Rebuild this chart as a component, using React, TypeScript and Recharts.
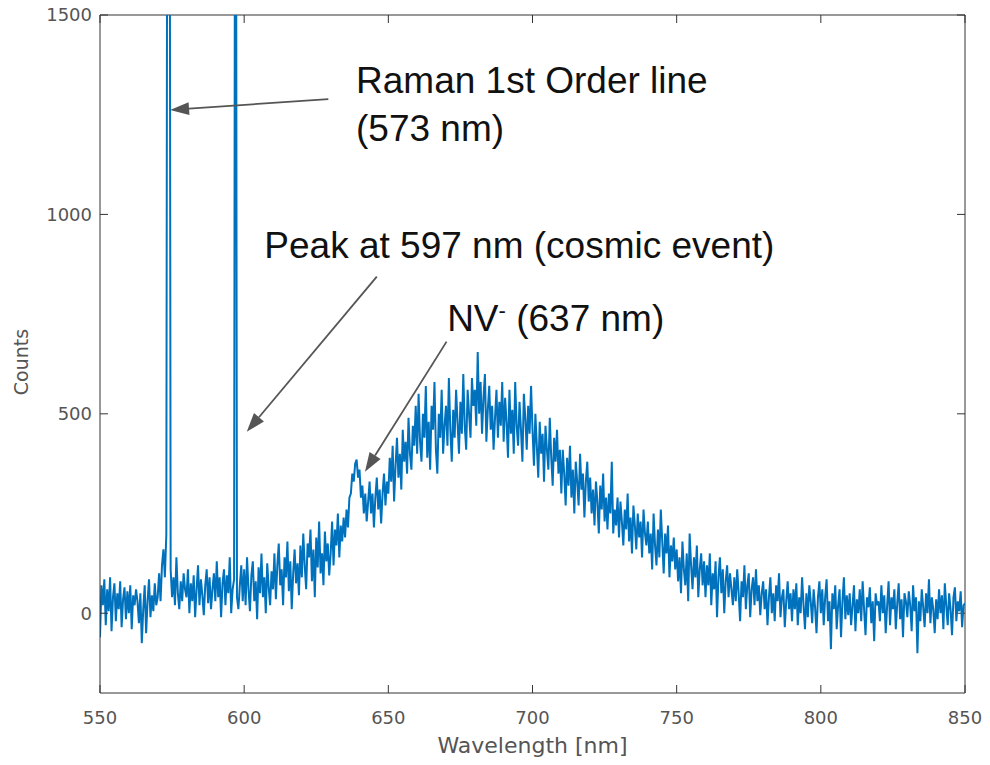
import { LineChart, Line, XAxis, YAxis, ReferenceLine, ReferenceDot } from "recharts";

const xTicks = [550, 600, 650, 700, 750, 800, 850];
const yTicks = [0, 500, 1000, 1500];

// spectrum sampled every 0.5 nm, starting at 550 nm
const startNm = 550;
const stepNm = 0.5;

const counts550 = [
  -60, 70, 20, 85, -30, 60, 5, 90, -45, 40, 75, -20, 50, 10, 80, -35, 35, 65, -15, 55,
  0, 70, -40, 45, 20, 60, 30, -25, 50, -75, 10, 70, -50, 30, 85, -10, 45, 5, 75, 20,
  40, 100, 30, 120, 160, 90, 197, 3000, 3000, 110, 40, 90, 20, 140, 50, 10, 80, 30, 100, 60,
  40, 110, 0, 75, 30, 95, -10, 60, 120, 20, 85, 45, -5, 70, 110, 25, 90, 10, 60, 100,
  30, 130, 40, 90, -10, 75, 110, 20, 95, 50, 140, 0, 60, 85, 3000, 40, 10, 70, 120, 30,
];
const counts600 = [
  110, 20, 140, 60, 5, 95, 130, 30, 80, -15, 115, 50, 150, 40, 90, 0, 125, 65, 20, 105,
  60, 150, 35, 120, 175, 70, 110, 20, 140, 90, 180, 55, 130, 10, 100, 160, 75, 125, 45, 170,
  90, 200, 120, 60, 175, 140, 210, 80, 160, 40, 190, 115, 230, 100, 150, 70, 205, 130, 175, 95,
  150, 230, 120, 210, 170, 250, 140, 220, 180, 240, 190, 260, 215, 290, 300, 350, 330, 375, 385, 340,
  360, 290, 320, 250, 300, 230, 280, 330, 250, 300, 215, 290, 340, 260, 310, 225, 300, 350, 270, 330,
];
const counts650 = [
  300, 390, 330, 420, 280, 370, 440, 340, 400, 310, 460, 380, 430, 350, 490, 400, 360, 470, 420, 520,
  400, 550, 430, 380, 500, 440, 570, 390, 480, 360, 520, 460, 580, 410, 350, 500, 440, 560, 400, 470,
  520, 420, 590, 460, 380, 510, 440, 560, 480, 400, 530, 450, 600, 470, 410, 560, 500, 440, 590, 520,
  560, 470, 655, 500, 580, 450, 540, 600, 430, 510, 570, 460, 520, 410, 490, 560, 440, 530, 470, 580,
  430, 540, 480, 390, 560, 450, 510, 400, 580, 470, 420, 530, 460, 380, 550, 490, 410, 520, 450, 570,
];
const counts700 = [
  460, 370, 500, 420, 340, 480, 400, 450, 330, 470, 410, 360, 490, 390, 320, 440, 380, 460, 350, 410,
  300, 410, 350, 270, 390, 320, 420, 290, 360, 250, 380, 330, 270, 400, 310, 350, 240, 330, 380, 280,
  340, 250, 310, 220, 330, 280, 200, 320, 260, 350, 230, 290, 210, 300, 250, 380, 200, 260, 220, 290,
  190, 280, 230, 170, 260, 210, 300, 180, 240, 150, 270, 220, 160, 250, 190, 230, 140, 260, 200, 170,
  230, 150, 200, 110, 250, 170, 120, 210, 140, 260, 180, 100, 200, 150, 220, 90, 170, 130, 190, 110,
];
const counts750 = [
  160, 80, 140, 50, 180, 110, 70, 150, 30, 200, 120, 60, 140, 90, 170, 40, 110, 150, 70, 130,
  40, 120, 70, 150, 20, 100, 60, 130, -10, 90, 140, 50, 110, 0, 80, 120, 40, 100, 60, 20,
  90, 30, 110, 50, -20, 80, 40, 120, 10, 70, 100, -10, 60, 90, 20, 110, 30, 70, -5, 50,
  80, 10, 60, -30, 40, 90, 0, 50, -20, 70, 30, 100, -10, 40, 60, -35, 30, 80, 10, 50,
  -20, 60, 10, 75, -30, 40, 0, 90, 20, -40, 50, -10, 70, 30, -25, 60, 15, -50, 40, 80,
];
const counts800 = [
  0, 60, -30, 40, 85, -20, 30, -90, 50, 10, 70, -40, 20, 60, -60, 30, 90, -15, 45, -5,
  50, -30, 20, 70, -45, 35, 0, 60, -20, 80, 10, -55, 40, 15, 65, -25, 30, -70, 50, 20,
  30, -20, 70, 0, 45, -50, 20, 80, -30, 40, 10, 60, -40, 25, 75, -15, 35, -60, 50, 30,
  -10, 55, 20, -45, 70, 5, 40, -100, 30, -20, 60, 15, -35, 50, 0, 85, -25, 40, 10, -50,
  35, -15, 60, 0, 45, -40, 75, 20, -30, 50, 10, -55, 40, 65, -20, 30, 5, 55, -35, 20,
];
const counts850 = [25];

const spectrum = [...counts550, ...counts600, ...counts650, ...counts700, ...counts750, ...counts800, ...counts850].map(
  (c, i) => ({ nm: startNm + i * stepNm, counts: c })
);

// annotation arrows, tail -> head, in data units
const arrows = [
  { x1: 629.2, y1: 1289, x2: 574.3, y2: 1262 },
  { x1: 646.0, y1: 844, x2: 600.9, y2: 455 },
  { x1: 670.2, y1: 681, x2: 641.9, y2: 355 },
];

const notes = [
  { nm: 638.8, counts: 1304, text: "Raman 1st Order line" },
  { nm: 638.8, counts: 1184, text: "(573 nm)" },
  { nm: 607.0, counts: 891, text: "Peak at 597 nm (cosmic event)" },
];
const nvNote = { nm: 670.4, counts: 708 };

const annoFont = "'Liberation Sans', Arial, sans-serif";
const tickFont = "'DejaVu Sans', Verdana, sans-serif";
const frame = "#333";

const Arrow = (props: any) => {
  const { x1, y1, x2, y2 } = props;
  const dx = x2 - x1;
  const dy = y2 - y1;
  const len = Math.sqrt(dx * dx + dy * dy);
  const ux = dx / len;
  const uy = dy / len;
  const hl = 19;
  const hw = 6.5;
  const bx = x2 - ux * hl;
  const by = y2 - uy * hl;
  const pts = `${x2},${y2} ${bx - uy * hw},${by + ux * hw} ${bx + uy * hw},${by - ux * hw}`;
  return (
    <g>
      <line x1={x1} y1={y1} x2={bx} y2={by} stroke="#555" strokeWidth={1.8} />
      <polygon points={pts} fill="#555" />
    </g>
  );
};

// inward tick at the top edge of a vertical reference line
const TopTick = (props: any) => {
  const top = Math.min(props.y1, props.y2);
  return <line x1={props.x1} y1={top} x2={props.x1} y2={top + 8} stroke={frame} />;
};

// inward tick at the right edge of a horizontal reference line
const RightTick = (props: any) => {
  const right = Math.max(props.x1, props.x2);
  return <line x1={right - 8} y1={props.y1} x2={right} y2={props.y1} stroke={frame} />;
};

const NoteText = (text: string) => (props: any) =>
  (
    <text x={props.cx} y={props.cy} fontFamily={annoFont} fontSize={37} fill="#111">
      {text}
    </text>
  );

const NvText = (props: any) => (
  <text x={props.cx} y={props.cy} fontFamily={annoFont} fontSize={37} fill="#111">
    NV
    <tspan dy={-13} fontSize={22}>
      -
    </tspan>
    <tspan dy={13}> (637 nm)</tspan>
  </text>
);

const XLabel = (props: any) => {
  const vb = props.viewBox;
  return (
    <text x={vb.x + vb.width / 2} y={vb.y + 60} textAnchor="middle" fontFamily={tickFont} fontSize={22} fill="#555">
      Wavelength [nm]
    </text>
  );
};

const YLabel = (props: any) => {
  const vb = props.viewBox;
  const cy = vb.y + vb.height / 2 + 8;
  return (
    <text x={28} y={cy} transform={`rotate(-90, 28, ${cy})`} textAnchor="middle" fontFamily={tickFont} fontSize={19} fill="#555">
      Counts
    </text>
  );
};

export default function App() {
  const tickStyle = { fontFamily: tickFont, fontSize: 18, fill: "#555" };
  return (
    <div style={{ position: "absolute", left: 0, top: 0, background: "#fff" }}>
      <LineChart width={990} height={765} data={spectrum} margin={{ top: 15, right: 25, bottom: 0, left: 0 }}>
        <XAxis
          dataKey="nm"
          type="number"
          domain={[550, 850]}
          ticks={xTicks}
          allowDataOverflow
          height={72}
          tickSize={-8}
          tickMargin={26}
          tick={tickStyle}
          axisLine={{ stroke: frame }}
          tickLine={{ stroke: frame }}
          label={<XLabel />}
        />
        <YAxis
          type="number"
          domain={[-200, 1500]}
          ticks={yTicks}
          allowDataOverflow
          width={100}
          tickSize={-8}
          tickMargin={16}
          tick={tickStyle}
          axisLine={{ stroke: frame }}
          tickLine={{ stroke: frame }}
          label={<YLabel />}
        />
        <ReferenceLine y={1500} stroke={frame} />
        <ReferenceLine x={850} stroke={frame} />
        {xTicks.map((t) => (
          <ReferenceLine key={"tt" + t} x={t} shape={TopTick} />
        ))}
        {yTicks.map((t) => (
          <ReferenceLine key={"rt" + t} y={t} shape={RightTick} />
        ))}
        <Line
          type="linear"
          dataKey="counts"
          stroke="#0072BD"
          strokeWidth={2}
          dot={false}
          activeDot={false}
          isAnimationActive={false}
        />
        {arrows.map((a, i) => (
          <ReferenceLine
            key={"arrow" + i}
            segment={[
              { x: a.x1, y: a.y1 },
              { x: a.x2, y: a.y2 },
            ]}
            shape={Arrow}
          />
        ))}
        {notes.map((n, i) => (
          <ReferenceDot key={"note" + i} x={n.nm} y={n.counts} r={0} shape={NoteText(n.text)} />
        ))}
        <ReferenceDot x={nvNote.nm} y={nvNote.counts} r={0} shape={NvText} />
      </LineChart>
    </div>
  );
}
